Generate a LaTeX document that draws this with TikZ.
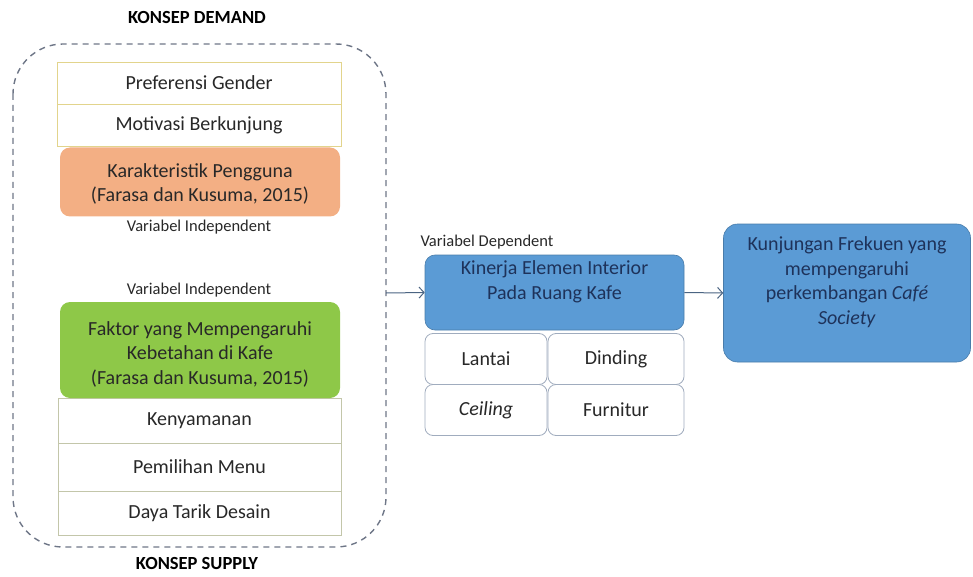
\documentclass[tikz,border=0pt]{standalone}
\usepackage{fontspec}
\setmainfont{Carlito}
\usetikzlibrary{arrows.meta}
\definecolor{dashc}{RGB}{110,118,135}
\definecolor{ylw}{RGB}{226,212,140}
\definecolor{olv}{RGB}{195,198,170}
\definecolor{orng}{RGB}{243,175,132}
\definecolor{grn}{RGB}{142,200,72}
\definecolor{blu}{RGB}{91,155,213}
\definecolor{navy}{RGB}{30,50,90}
\definecolor{txt}{RGB}{40,40,40}
\definecolor{sbord}{RGB}{160,172,190}
\definecolor{arrc}{RGB}{75,100,130}
\tikzset{
  lbl/.style={font=\fontsize{20}{24.5}\selectfont, text=txt, inner sep=0pt},
  small/.style={font=\fontsize{16.5}{19}\selectfont, text=txt, inner sep=0pt},
  title/.style={font=\bfseries\fontsize{18.5}{22}\selectfont, text=black, inner sep=0pt},
  ybox/.style={draw=ylw, line width=0.8pt, fill=white, lbl},
  obox/.style={draw=olv, line width=0.8pt, fill=white, lbl},
  sbox/.style={draw=sbord, line width=0.8pt, fill=white, rounded corners=8pt, lbl},
  arr/.style={draw=arrc, line width=1pt, -{Straight Barb[length=5pt,width=11pt]}},
}
\begin{document}
\begin{tikzpicture}[x=1pt,y=-1pt]
\useasboundingbox (0,0) rectangle (973,577);
% dashed container
\draw[dashc, dash pattern=on 6pt off 5pt, line width=1.4pt, rounded corners=50pt] (13,44) rectangle (386,547);
\node[title] (td) at (197,18) {KONSEP DEMAND};
\node[title] (ts) at (197,563) {KONSEP SUPPLY};
% demand boxes
\node[ybox, minimum width=284pt, minimum height=42pt] (pg) at (199,83) {Preferensi Gender};
\node[ybox, minimum width=284pt, minimum height=42pt] (mb) at (199,125) {Motivasi Berkunjung};
\node[fill=orng, rounded corners=10pt, minimum width=280pt, minimum height=69pt, inner sep=0pt] (kp) at (200,182) {};
\node[lbl, align=center] (kpt) at (200,184) {Karakteristik Pengguna\\(Farasa dan Kusuma, 2015)};
\node[small] (vi1) at (199,227) {Variabel Independent};
\node[small] (vi2) at (199,290) {Variabel Independent};
% supply boxes
\node[obox, minimum width=283pt, minimum height=46pt] (ky) at (199.5,421) {Kenyamanan};
\node[obox, minimum width=283pt, minimum height=48pt] (pm) at (199.5,467) {Pemilihan Menu};
\node[obox, minimum width=283pt, minimum height=44pt] (dt) at (199.5,513) {Daya Tarik Desain};
\node[fill=grn, rounded corners=10pt, minimum width=280pt, minimum height=96pt, inner sep=0pt] (fk) at (200,350) {};
\node[lbl, align=center] (fkt) at (200,354) {Faktor yang Mempengaruhi\\Kebetahan di Kafe\\(Farasa dan Kusuma, 2015)};
% dependent
\node[small] (vd) at (487,242) {Variabel Dependent};
\node[lbl, text=navy, fill=blu, draw=blu!80!black, line width=0.6pt, rounded corners=10pt, minimum width=259pt, minimum height=75pt, align=center] (ke) at (554.5,292.5) {Kinerja Elemen Interior\\Pada Ruang Kafe\\\mbox{}};
\node[sbox, minimum width=122pt, minimum height=51pt] (la) at (486,359) {Lantai};
\node[sbox, minimum width=136pt, minimum height=51pt] (di) at (616,359) {Dinding};
\node[sbox, minimum width=122pt, minimum height=51pt, font=\itshape\fontsize{20}{24}\selectfont] (ce) at (486,410) {Ceiling};
\node[sbox, minimum width=136pt, minimum height=51pt] (fu) at (616,410) {Furnitur};
% result
\node[lbl, text=navy, fill=blu, draw=blu!80!black, line width=0.6pt, rounded corners=14pt, minimum width=247pt, minimum height=138pt, align=center] (kf) at (847,293) {Kunjungan Frekuen yang\\mempengaruhi\\perkembangan \textit{Café}\\\textit{Society}\\\mbox{}};
% arrows
\coordinate (src) at (386,293);
\draw[arr] (src) -- (ke.west);
\draw[arr] (ke.east) -- (kf.west);
\end{tikzpicture}
\end{document}
